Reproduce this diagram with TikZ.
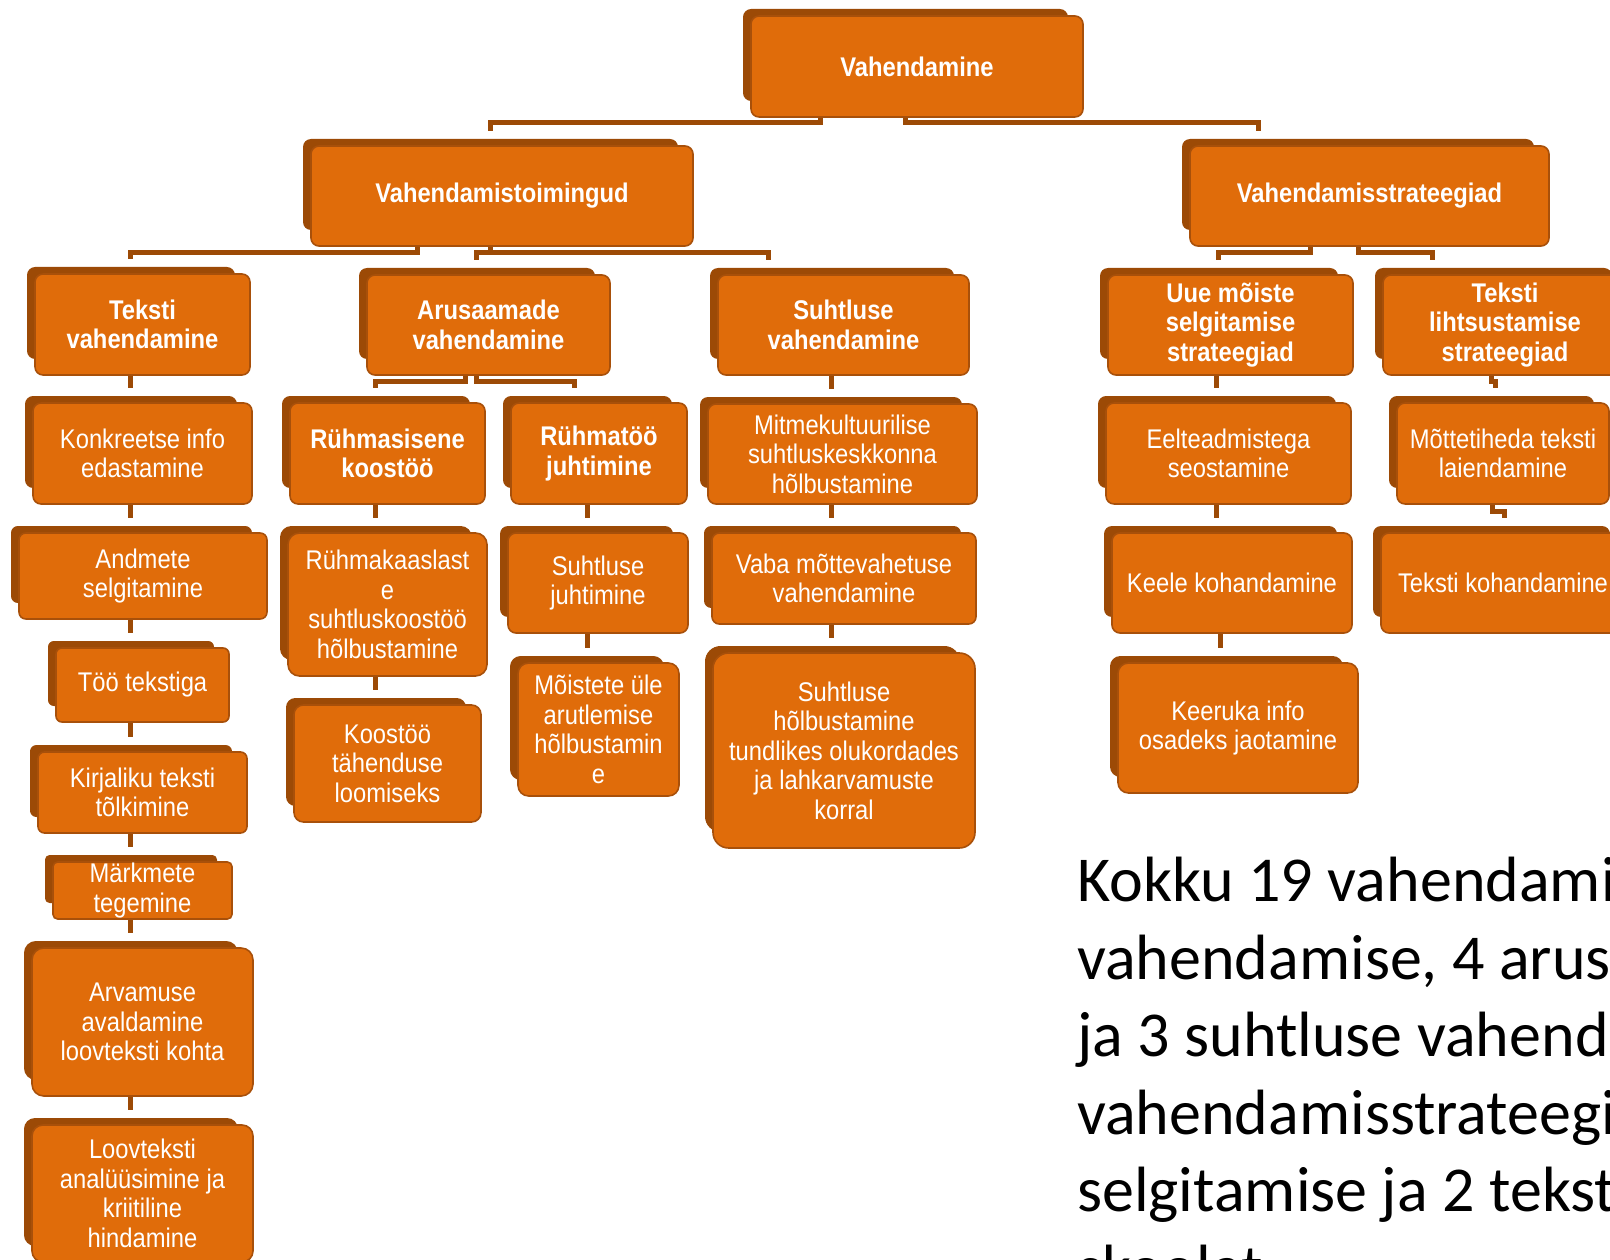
\documentclass[tikz,border=0pt]{standalone}
\usepackage{fontspec}
\setmainfont{Liberation Sans}[FakeStretch=0.88]
\newfontfamily\calfont{Carlito}
\usetikzlibrary{calc}
\pgfdeclarelayer{background}
\pgfsetlayers{background,main}
\definecolor{boxfill}{HTML}{E06C0A}
\definecolor{boxline}{HTML}{A8500A}
\definecolor{shadowc}{HTML}{9C4A06}
\tikzset{
  mainbox/.style={draw=boxline, line width=1.6pt, fill=boxfill, inner sep=0pt},
  boxtext/.style={text=white, align=center, inner sep=0pt, font=\fontsize{27}{29.5}\selectfont},
  boldtext/.style={font=\fontsize{27}{29.5}\selectfont\bfseries},
  connline/.style={draw=shadowc, line width=5pt},
  notetext/.style={anchor=north west, inner sep=0pt, align=left, text=black, font=\calfont\fontsize{64}{77.5}\selectfont}
}
% box: [text style] name x1 y1 x2 y2 text
\newcommand\bx[7][]{%
  \pgfmathsetmacro\bw{#5-#3}%
  \pgfmathsetmacro\bh{#6-#4}%
  \pgfmathsetmacro\br{0.08*min(\bw,\bh)}%
  \fill[shadowc, rounded corners=\br pt] (#3-8,#4-7) rectangle (#5-15,#6-16);
  \node[mainbox, rounded corners=\br pt, minimum width=\bw pt, minimum height=\bh pt] (#2) at ({(#3+#5)/2},{(#4+#6)/2}) {};
  \node[boxtext,#1] (#2-t) at (#2.center) {#7};
}
% elbow connector: parent, start x, mid y, child, end x
\newcommand\elbow[5]{%
  \draw[connline] (#1.south -| #2,0) |- (#5,#3) -- ($(#4.north -| #5,0)+(0,-14)$);
}
% straight vertical connector: parent, child, x
\newcommand\vconn[3]{%
  \draw[connline] (#1.south -| #3,0) -- ($(#2.north -| #3,0)+(0,-14)$);
}
\begin{document}
\begin{tikzpicture}[x=1pt,y=-1pt]
\useasboundingbox (0,0) rectangle (1610,1260);
\clip (0,0) rectangle (1610,1260);

% level 1 and 2
\bx[boldtext]{root}{751}{16}{1083}{117}{Vahendamine}
\bx[boldtext]{vt}{311}{146}{693}{246}{Vahendamistoimingud}
\bx[boldtext]{vs}{1190}{146}{1549}{246}{Vahendamisstrateegiad}

% level 3 heads
\bx[boldtext]{tv}{35}{274}{250}{375}{Teksti\\vahendamine}
\bx[boldtext]{av}{367}{275}{610}{375}{Arusaamade\\vahendamine}
\bx[boldtext]{sv}{718}{275}{969}{375}{Suhtluse\\vahendamine}
\bx[boldtext]{um}{1108}{275}{1353}{375}{Uue mõiste\\selgitamise\\strateegiad}
\bx[boldtext]{tl}{1383}{275}{1627}{375}{Teksti\\lihtsustamise\\strateegiad}

% Teksti vahendamine column
\bx{k1}{33}{403}{252}{504}{Konkreetse info\\edastamine}
\bx{k2}{19}{533}{267}{619}{Andmete\\selgitamine}
\bx{k3}{56}{648}{229}{722}{Töö tekstiga}
\bx{k4}{38}{752}{247}{833}{Kirjaliku teksti\\tõlkimine}
\bx{k5}{53}{862}{232}{919}{Märkmete\\tegemine}
\bx{k6}{32}{948}{253}{1096}{Arvamuse\\avaldamine\\loovteksti kohta}
\bx{k7}{32}{1125}{253}{1262}{Loovteksti\\analüüsimine ja\\kriitiline\\hindamine}

% Arusaamade column
\bx[boldtext]{r1}{290}{403}{485}{504}{Rühmasisene\\koostöö}
\bx[boldtext]{r2}{511}{403}{687}{504}{Rühmatöö\\juhtimine}
\bx{r3}{288}{533}{487}{676}{Rühmakaaslast\\e\\suhtluskoostöö\\hõlbustamine}
\bx{r4}{294}{705}{481}{822}{Koostöö\\tähenduse\\loomiseks}
\bx{r5}{508}{533}{688}{633}{Suhtluse\\juhtimine}
\bx{r6}{518}{663}{679}{796}{Mõistete üle\\arutlemise\\hõlbustamin\\e}

% Suhtluse column
\bx{s1}{708}{404}{977}{504}{Mitmekultuurilise\\suhtluskeskkonna\\hõlbustamine}
\bx{s2}{712}{533}{976}{624}{Vaba mõttevahetuse\\vahendamine}
\bx{s3}{713}{653}{975}{848}{Suhtluse\\hõlbustamine\\tundlikes olukordades\\ja lahkarvamuste\\korral}

% Uue mõiste column
\bx{u1}{1106}{403}{1351}{504}{Eelteadmistega\\seostamine}
\bx{u2}{1112}{533}{1352}{633}{Keele kohandamine}
\bx{u3}{1118}{663}{1358}{793}{Keeruka info\\osadeks jaotamine}

% Teksti lihtsustamise column
\bx{t1}{1397}{403}{1609}{504}{Mõttetiheda teksti\\laiendamine}
\bx{t2}{1381}{533}{1625}{633}{Teksti kohandamine}

% note
\node[notetext] (note) at (1077,857) {Kokku 19 vahendami\\vahendamise, 4 arus\\ja 3 suhtluse vahend\\vahendamisstrateegi\\selgitamise ja 2 tekst\\skoolat};

\begin{pgfonlayer}{background}
\elbow{root}{820.5}{123}{vt}{490.5}
\elbow{root}{905.5}{123}{vs}{1258}
\elbow{vt}{417.5}{252.5}{tv}{130.5}
\elbow{vt}{490.5}{252.5}{av}{476.5}
\elbow{vt}{490.5}{252.5}{sv}{768}
\elbow{vs}{1310.5}{252.5}{um}{1218.5}
\elbow{vs}{1358.5}{252.5}{tl}{1432.5}
% Teksti vahendamine column
\vconn{tv}{k1}{130.5}
\vconn{k1}{k2}{130.5}
\vconn{k2}{k3}{130.5}
\vconn{k3}{k4}{130.5}
\vconn{k4}{k5}{130.5}
\vconn{k5}{k6}{130.5}
\vconn{k6}{k7}{130.5}
% Arusaamade
\elbow{av}{465}{381.5}{r1}{375.5}
\elbow{av}{476}{381.5}{r2}{574}
\vconn{r1}{r3}{375.5}
\vconn{r3}{r4}{375.5}
\vconn{r2}{r5}{587.5}
\vconn{r5}{r6}{587.5}
% Suhtluse
\vconn{sv}{s1}{831.5}
\vconn{s1}{s2}{831.5}
\vconn{s2}{s3}{831.5}
% Uue moiste
\vconn{um}{u1}{1216.5}
\vconn{u1}{u2}{1216.5}
\vconn{u2}{u3}{1220}
% Teksti lihtsustamise
\elbow{tl}{1491.5}{381}{t1}{1495}
\elbow{t1}{1492}{511}{t2}{1504.5}
\end{pgfonlayer}
\end{tikzpicture}
\end{document}
